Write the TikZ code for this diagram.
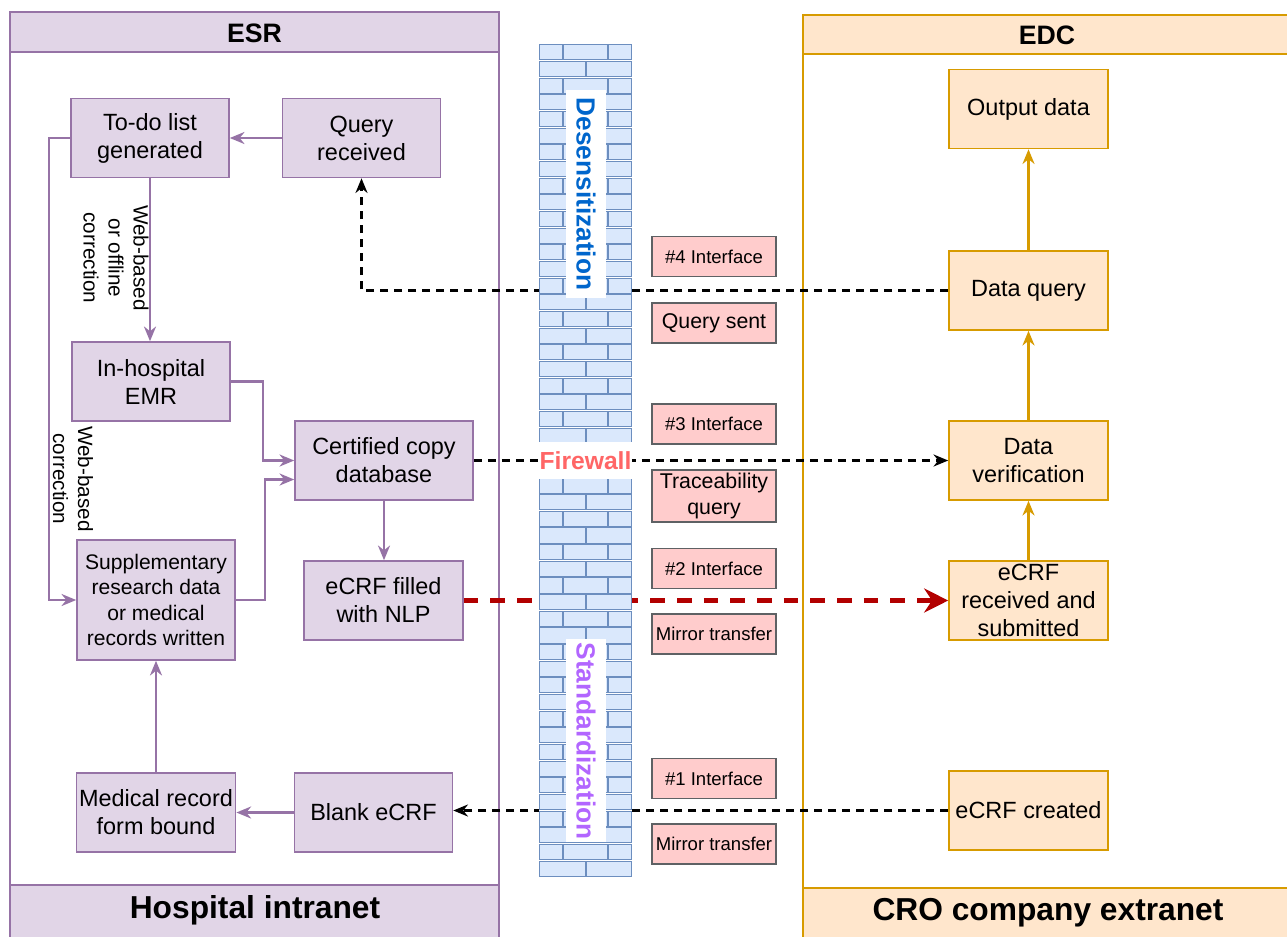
\documentclass[tikz,border=0pt]{standalone}
\usepackage{fontspec}
\setmainfont{Liberation Sans}
\usetikzlibrary{arrows.meta}

\definecolor{pfill}{HTML}{E1D5E7}
\definecolor{pline}{HTML}{9673A6}
\definecolor{ofill}{HTML}{FFE6CC}
\definecolor{oline}{HTML}{D79B00}
\definecolor{tagfill}{HTML}{FFCCCC}
\definecolor{tagline}{HTML}{36393D}
\definecolor{brickfill}{HTML}{DAE8FC}
\definecolor{brickline}{HTML}{6C8EBF}
\definecolor{nlpred}{HTML}{B20000}
\definecolor{desblue}{HTML}{0066CC}
\definecolor{stdpurple}{HTML}{B266FF}
\definecolor{firered}{HTML}{FF6666}

\begin{document}
\begin{tikzpicture}[x=0.75pt,y=-0.75pt,
  box/.style={draw, line width=1.2pt, minimum width=118.5pt, minimum height=59.25pt,
    align=center, inner sep=2pt, font=\fontsize{17.6}{21}\selectfont},
  pbox/.style={box, fill=pfill, draw=pline},
  obox/.style={box, fill=ofill, draw=oline},
  tag/.style={draw=tagline!80, fill=tagfill, line width=1.2pt, minimum width=93pt,
    minimum height=30pt, align=center, inner sep=2pt, font=\fontsize{13.9}{16}\selectfont},
  tagbig/.style={tag, font=\fontsize{16}{19.5}\selectfont},
  parrow/.style={draw=pline, line width=1.8pt, -{Stealth[length=11pt,width=9pt]}},
  oarrow/.style={draw=oline, line width=1.8pt, -{Stealth[length=11pt,width=9pt]}},
  darrow/.style={draw=black, line width=1.8pt, dash pattern=on 6pt off 4.5pt,
    -{Stealth[length=11pt,width=9pt]}},
  redarrow/.style={draw=nlpred, line width=3.4pt, dash pattern=on 11pt off 9pt,
    -{Stealth[length=18pt,width=18pt]}},
  cont/.style={line width=1.8pt},
  title/.style={font=\bfseries\fontsize{20}{24}\selectfont},
  bigtitle/.style={font=\bfseries\fontsize{23.8}{28}\selectfont},
  edgelabel/.style={align=center, rotate=-90, inner sep=0pt, font=\fontsize{15.5}{18.8}\selectfont},
  walllabel/.style={rotate=-90, inner sep=0pt, font=\bfseries\fontsize{19.7}{24}\selectfont}
]
\useasboundingbox (0,0) rectangle (1287,936);
\clip (0,0) rectangle (1287,936);

% ---------- containers ----------
\draw[cont, draw=pline, fill=pfill] (10,12) rectangle (499,52);
\draw[cont, draw=pline, fill=white] (10,52) rectangle (499,885);
\draw[cont, draw=pline, fill=pfill] (10,885) rectangle (499,945);
\node[title] (esr) at (254.5,33) {ESR};
\node[bigtitle] (intranet) at (255,910) {Hospital intranet};

\draw[cont, draw=oline, fill=ofill] (803,15) rectangle (1300,54);
\draw[cont, draw=oline, fill=white] (803,54) rectangle (1300,888);
\draw[cont, draw=oline, fill=ofill] (803,888) rectangle (1300,945);
\node[title] (edc) at (1047,35) {EDC};
\node[bigtitle] (extranet) at (1048,913) {CRO company extranet};

% ---------- hospital side ----------
\node[pbox] (todo) at (150,138) {To-do list\\generated};
\node[pbox] (qrec) at (361.5,138) {Query\\received};
\node[pbox] (emr) at (151,381.5) {In-hospital\\EMR};
\node[pbox, minimum width=133.5pt] (cert) at (384,460.5) {Certified copy\\database};
\node[pbox, minimum width=119.25pt] (nlp) at (383.5,600.5) {eCRF filled\\with NLP};
\node[pbox, minimum height=90pt, font=\fontsize{15.8}{19}\selectfont] (supp) at (156,600)
  {Supplementary\\research data\\or medical\\records written};
\node[pbox] (mrf) at (156,812.5) {Medical record\\form bound};
\node[pbox] (blank) at (373.5,812.5) {Blank eCRF};

% ---------- CRO side ----------
\node[obox, minimum width=119.25pt] (out) at (1028.5,109) {Output data};
\node[obox, minimum width=119.25pt] (dq) at (1028.5,290.5) {Data query};
\node[obox, minimum width=119.25pt] (dv) at (1028.5,460.5) {Data\\verification};
\node[obox, minimum width=119.25pt] (er) at (1028.5,600.5) {eCRF\\received and\\submitted};
\node[obox, minimum width=119.25pt] (ec) at (1028.5,810.5) {eCRF created};

% ---------- interface tags ----------
\node[tag] (if4) at (714,256.5) {\#4 Interface};
\node[tagbig] (qs) at (714,323) {Query sent};
\node[tag] (if3) at (714,424) {\#3 Interface};
\node[tagbig, minimum height=39pt] (tq) at (714,496) {Traceability\\query};
\node[tag] (if2) at (714,568.5) {\#2 Interface};
\node[tag] (mt2) at (714,634) {Mirror transfer};
\node[tag] (if1) at (714,778.5) {\#1 Interface};
\node[tag] (mt1) at (714,844) {Mirror transfer};

% ---------- hospital flows ----------
\draw[parrow] (qrec.west) -- (todo.east);
\draw[parrow] (todo.south) -- (todo.south |- emr.north);
\node[edgelabel] (lbl1) at (116,258) {Web-based\\or offline\\correction};
\draw[parrow] (todo.west) -- ++(-21,0) |- (supp.west);
\node[edgelabel] (lbl2) at (73,479) {Web-based\\correction};
\draw[parrow] (emr.east) -- ++(32,0) |- (cert.west);
\draw[parrow] (supp.east) -- ++(29,0) |- ([yshift=-14.25pt]cert.west);
\draw[parrow] (cert.south) -- (cert.south |- nlp.north);
\draw[parrow] (mrf.north) -- (supp.south);
\draw[parrow] (blank.west) -- (mrf.east);

% ---------- cross-network flows ----------
\draw[darrow] (dq.west) -| (qrec.south);
\draw[darrow] (cert.east) -- (dv.west);
\draw[darrow] (ec.west) -- (ec.west -| blank.east);
\draw[redarrow] (nlp.east) -- (er.west);

% ---------- CRO flows ----------
\draw[oarrow] (er.north) -- (dv.south);
\draw[oarrow] (dv.north) -- (dq.south);
\draw[oarrow] (dq.north) -- (out.south);

% ---------- firewall brick wall ----------
\fill[white] (539,44) rectangle (632,877);
\foreach \r in {0,...,49}{
  \pgfmathsetmacro\ya{44+\r*16.66+0.8}
  \pgfmathsetmacro\yb{44+(\r+1)*16.66-0.8}
  \ifodd\r
    \draw[fill=brickfill, draw=brickline, line width=0.7pt] (539.5,\ya) rectangle (585.3,\yb);
    \draw[fill=brickfill, draw=brickline, line width=0.7pt] (586.7,\ya) rectangle (631.5,\yb);
  \else
    \draw[fill=brickfill, draw=brickline, line width=0.7pt] (539.5,\ya) rectangle (562.3,\yb);
    \draw[fill=brickfill, draw=brickline, line width=0.7pt] (563.7,\ya) rectangle (607.3,\yb);
    \draw[fill=brickfill, draw=brickline, line width=0.7pt] (608.7,\ya) rectangle (631.5,\yb);
  \fi
}
\fill[white] (566,90) rectangle (606,298);
\node[walllabel, text=desblue] (des) at (586,194) {Desensitization};
\fill[white] (566,639) rectangle (606,842);
\node[walllabel, text=stdpurple] (std) at (586,741) {Standardization};
\fill[white] (539,442) rectangle (632,479);
\node[font=\bfseries\fontsize{18.5}{22}\selectfont, text=firered, inner sep=0pt] (fw) at (585.5,461) {Firewall};
\end{tikzpicture}
\end{document}
